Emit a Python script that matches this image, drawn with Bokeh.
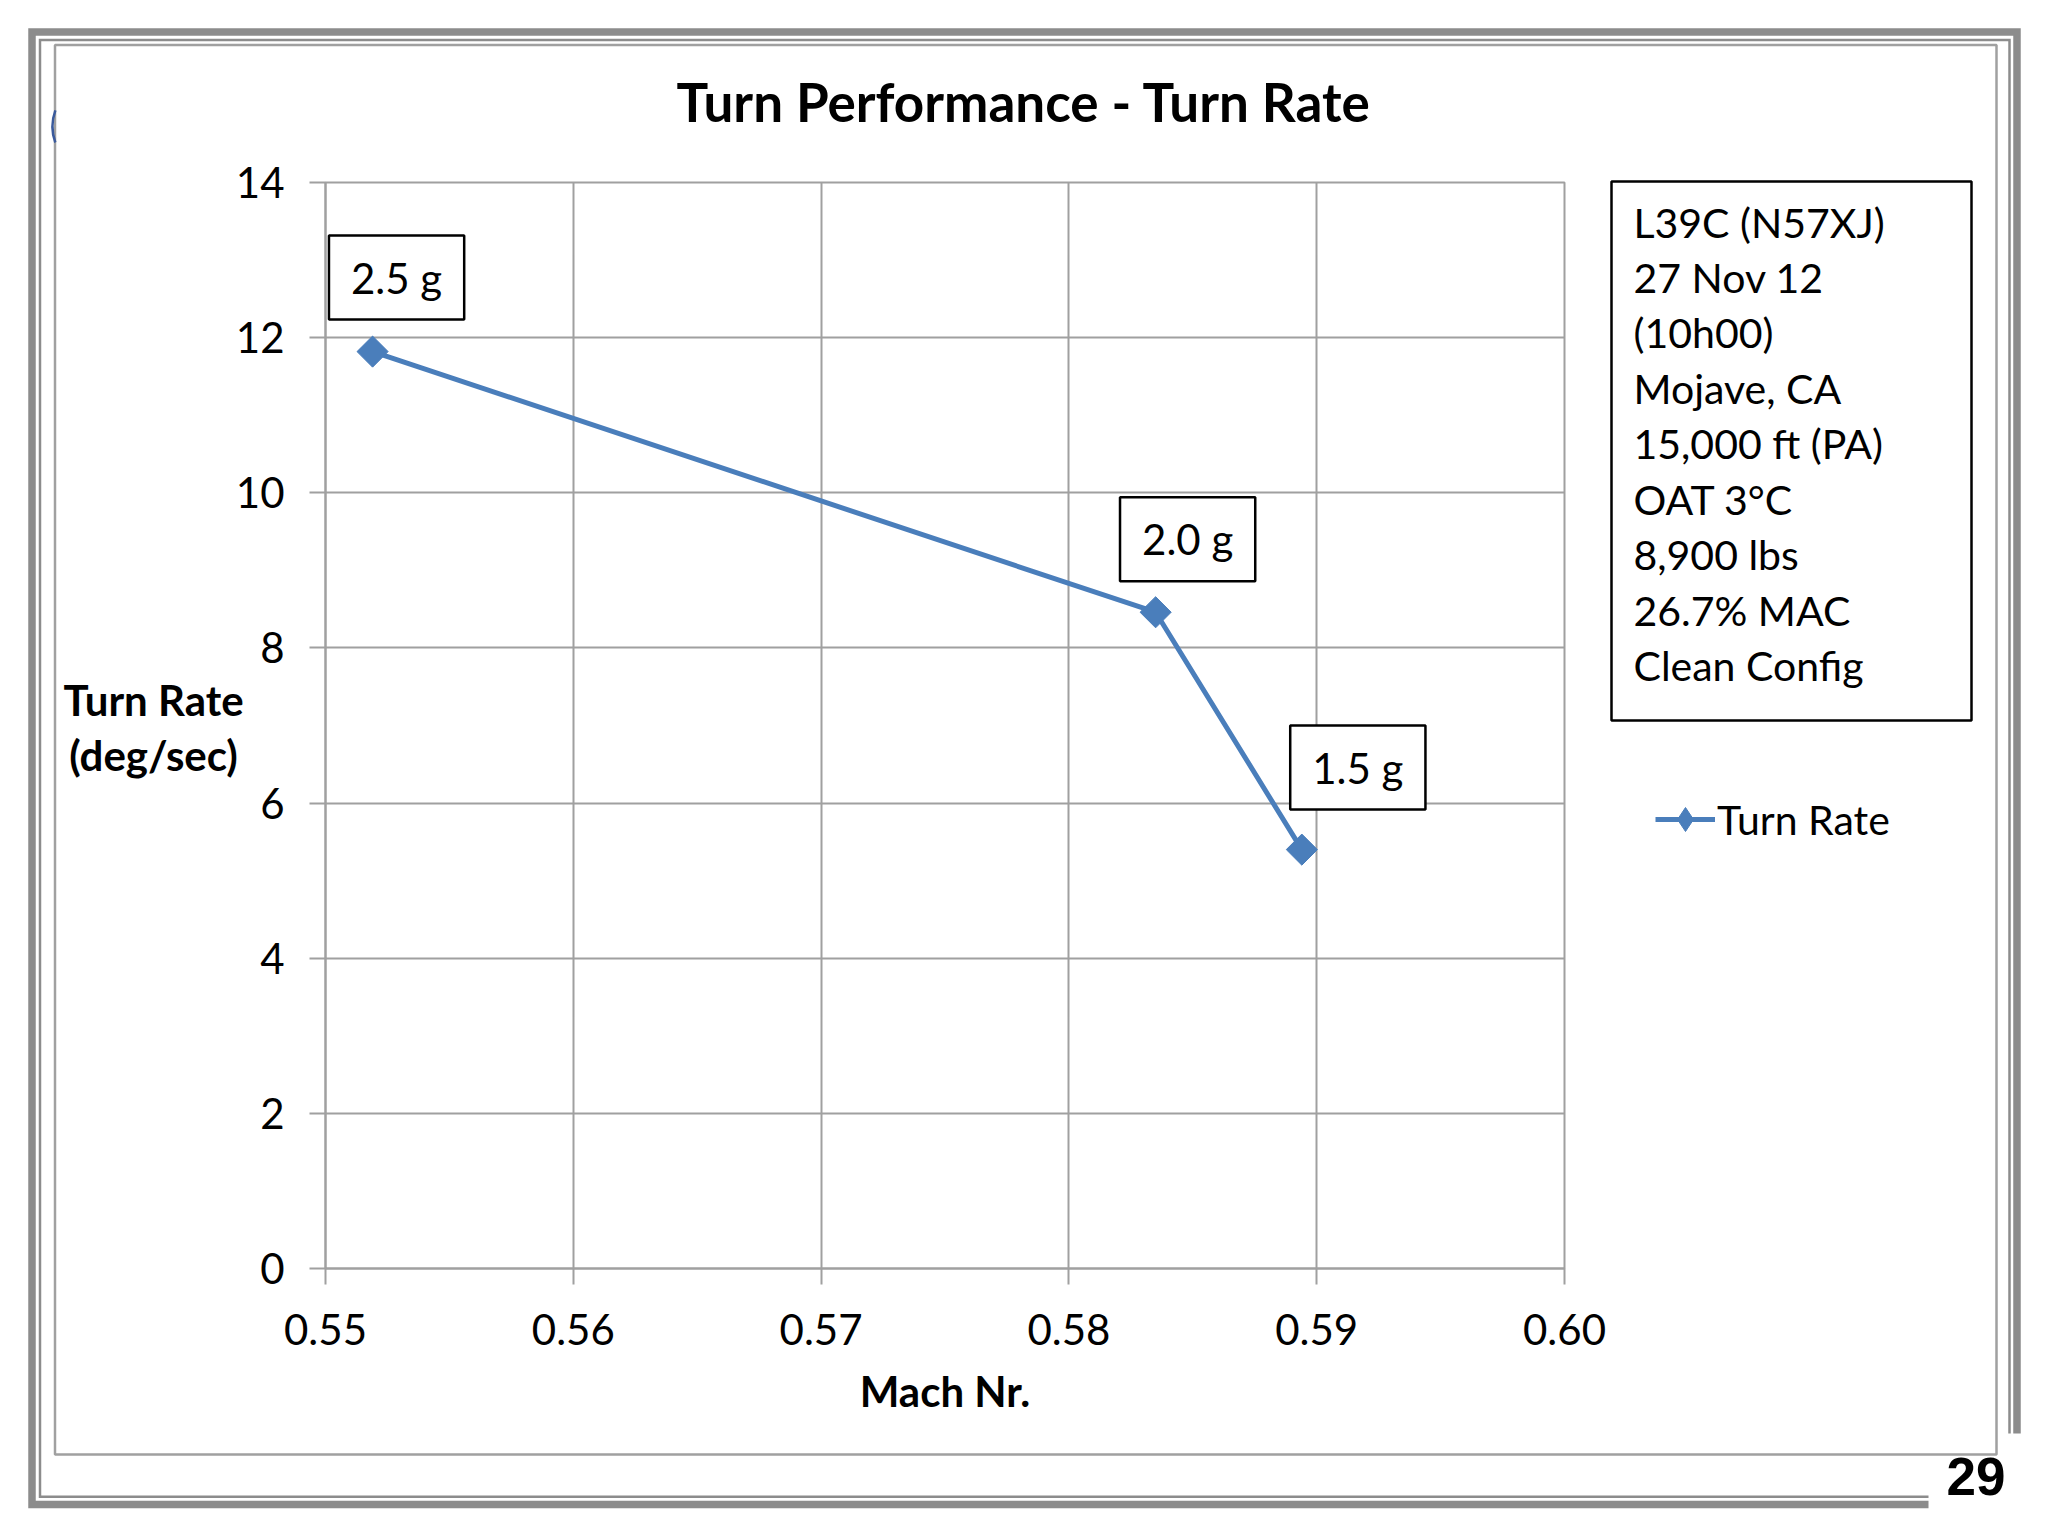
from bokeh.plotting import figure
from bokeh.models import (Label, Legend, LegendItem, FixedTicker, PrintfTickFormatter)
from bokeh.embed import file_html
from bokeh.resources import INLINE

# ---------------- data ----------------
mach = [0.5519, 0.5835, 0.5894]
turn_rate = [11.82, 8.46, 5.40]
g_labels = ["2.5 g", "2.0 g", "1.5 g"]
x_ticks = [0.55, 0.56, 0.57, 0.58, 0.59, 0.60]
y_ticks = [0, 2, 4, 6, 8, 10, 12, 14]
info_lines = ["L39C (N57XJ)", "27 Nov 12", "(10h00)", "Mojave, CA",
              "15,000 ft (PA)", "OAT 3°C", "8,900 lbs", "26.7% MAC", "Clean Config"]
title_text = "Turn Performance - Turn Rate"
y_label_lines = ["Turn Rate", "(deg/sec)"]
x_label = "Mach Nr."
series_name = "Turn Rate"
page_number = "29"

# ---------------- layout ----------------
W, H = 2032, 1520
ML, MR, MT, MB = 325, 468, 182, 252
FONT = "Lato"
BLUE = "#4a7ebb"
GRID = "#a0a0a0"
FRAME_GRAY = "#8c8c8c"

# ---------- decoration layer (page pixel coordinates, y down) ----------
deco = figure(width=W, height=H, x_range=(0, W), y_range=(H, 0),
              min_border=0, toolbar_location=None, output_backend="svg",
              x_axis_location=None, y_axis_location=None, title=None)
deco.grid.visible = False
deco.outline_line_color = None
deco.background_fill_color = "white"
deco.border_fill_color = "white"

# outer double frame, open at the bottom-right corner
deco.line([1928, 31.5, 31.5, 2016.5, 2016.5], [1504, 1504, 31.5, 31.5, 1433],
          line_color=FRAME_GRAY, line_width=7.5, line_join="miter")
deco.line([1928, 39.5, 39.5, 2009, 2009], [1496.3, 1496.3, 39.5, 39.5, 1433],
          line_color=FRAME_GRAY, line_width=2.5, line_join="miter")
# chart-area frame
deco.quad(left=[54.5], right=[1996], top=[44.5], bottom=[1454],
          fill_color=None, line_color="#a0a0a0", line_width=2.5)
# small blue arc at the left edge
deco.arc(x=[99], y=[126], radius=47, start_angle=2.79, end_angle=3.49,
         line_color="#3a5a9c", line_width=2.5)
# info box
deco.quad(left=[1611], right=[1971], top=[181], bottom=[720],
          fill_color="white", line_color="black", line_width=2.5)

deco.add_layout(Label(x=1023.5, y=101, text=title_text, text_align="center",
                      text_baseline="middle", text_font=FONT, text_font_style="bold",
                      text_font_size="53px", text_color="black"))
for i, t in enumerate(y_label_lines):
    deco.add_layout(Label(x=153, y=699.5 + 54.8 * i, text=t, text_align="center",
                          text_baseline="middle", text_font=FONT,
                          text_font_style="bold", text_font_size="42px",
                          text_color="black"))
for i, t in enumerate(info_lines):
    deco.add_layout(Label(x=1633, y=221.5 + 55.45 * i, text=t, text_align="left",
                          text_baseline="middle", text_font=FONT,
                          text_font_size="41px", text_color="black"))
deco.add_layout(Label(x=2005, y=1476, text=page_number, text_align="right",
                      text_baseline="middle", text_font="Liberation Sans",
                      text_font_style="bold", text_font_size="53px",
                      text_color="black"))

# legend key (styled like the series; the key renderers draw no marks themselves)
nan = float("nan")
key_line = deco.line([nan, nan], [nan, nan], line_width=5, line_color=BLUE)
key_mark = deco.scatter([nan], [nan], marker="diamond", size=24,
                        fill_color=BLUE, line_color=BLUE)
legend = Legend(items=[LegendItem(label=series_name, renderers=[key_line, key_mark])],
                location=(1655, 668), border_line_color=None,
                background_fill_alpha=0, padding=0, margin=0,
                glyph_width=60, glyph_height=66, label_height=66,
                label_standoff=2, label_text_font=FONT,
                label_text_font_size="41px", label_text_color="black")
deco.add_layout(legend, "center")

# ---------------- chart layer ----------------
p = figure(width=W, height=H, x_range=(0.55, 0.60), y_range=(0, 14),
           min_border_left=ML, min_border_right=MR, min_border_top=MT,
           min_border_bottom=MB, toolbar_location=None, output_backend="svg",
           title=None, margin=(-H, 0, 0, 0))
p.background_fill_alpha = 0
p.border_fill_alpha = 0
p.outline_line_color = GRID
p.outline_line_width = 2

p.xaxis.ticker = FixedTicker(ticks=x_ticks)
p.yaxis.ticker = FixedTicker(ticks=y_ticks)
p.xaxis.formatter = PrintfTickFormatter(format="%.2f")
for ax in (p.xaxis[0], p.yaxis[0]):
    ax.axis_line_color = GRID
    ax.axis_line_width = 2
    ax.major_tick_line_color = GRID
    ax.major_tick_line_width = 2
    ax.major_tick_out = 16
    ax.major_tick_in = 0
    ax.minor_tick_line_color = None
    ax.major_label_text_font = FONT
    ax.major_label_text_font_size = "42px"
    ax.major_label_text_color = "black"
p.yaxis.major_label_standoff = 25
p.xaxis.major_label_standoff = 29
p.xaxis.axis_label = x_label
p.xaxis.axis_label_text_font = FONT
p.xaxis.axis_label_text_font_style = "bold"
p.xaxis.axis_label_text_font_size = "42px"
p.xaxis.axis_label_text_color = "black"
p.xaxis.axis_label_standoff = 18

p.grid.grid_line_color = GRID
p.grid.grid_line_width = 2

line_r = p.line(mach, turn_rate, line_width=5, line_color=BLUE)
mark_r = p.scatter(mach, turn_rate, marker="square", angle=0.785398, size=22,
                   fill_color=BLUE, line_color=BLUE)

lab_dx = [24, 32, 56]
lab_dy = [74, 73, 82]
for xv, yv, t, dx, dy in zip(mach, turn_rate, g_labels, lab_dx, lab_dy):
    p.add_layout(Label(x=xv, y=yv, x_offset=dx, y_offset=dy, text=t,
                       text_align="center", text_baseline="middle",
                       text_font=FONT, text_font_size="42px", text_color="black",
                       background_fill_color="white", border_line_color="black",
                       border_line_width=2.5, padding=(22, 22, 17, 17)))

open("out.html", "w").write(file_html([deco, p], INLINE))
